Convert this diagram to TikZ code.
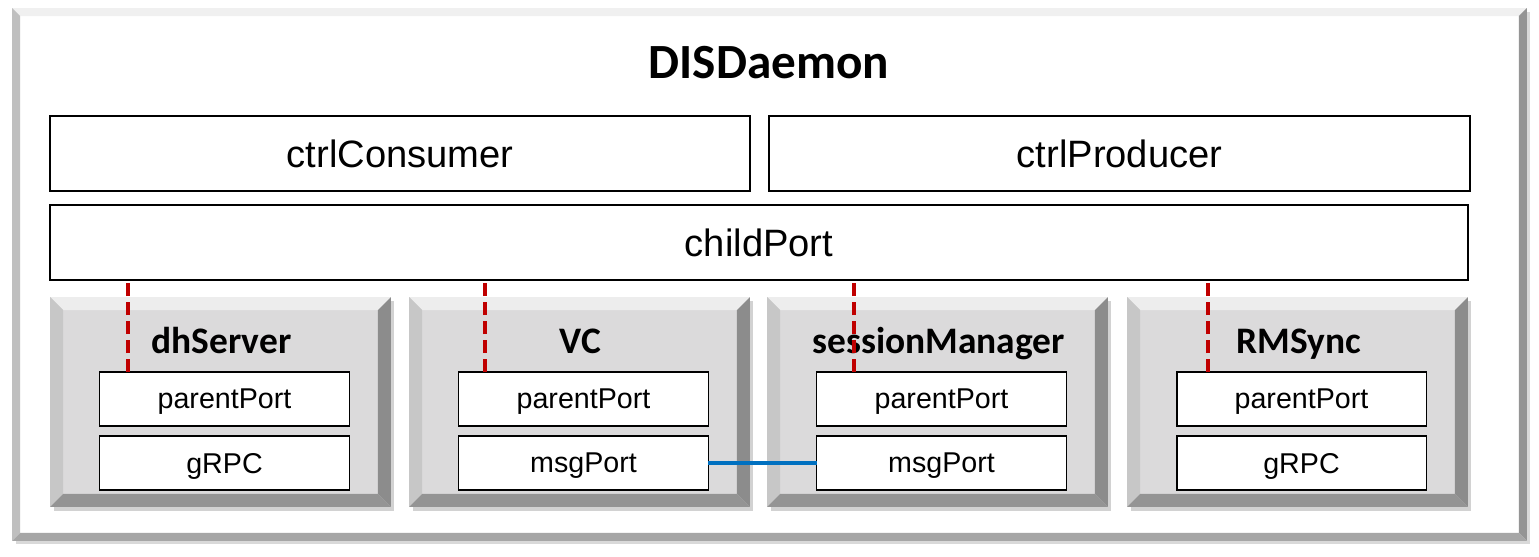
\documentclass[tikz,border=0pt]{standalone}
\usepackage{fontspec}
\setmainfont{Liberation Sans}
\newfontfamily\calibri{Carlito}
\usetikzlibrary{shadows}

\definecolor{compface}{HTML}{DBDADB}
\definecolor{tapred}{HTML}{C00000}
\definecolor{msgblue}{HTML}{0070C0}

% bevel edges round a node: node, depth, top, left, right, bottom
\newcommand{\bevel}[6]{%
  \fill[#3] (#1.north west) -- (#1.north east) -- ([xshift=-#2,yshift=-#2]#1.north east) -- ([xshift=#2,yshift=-#2]#1.north west) -- cycle;
  \fill[#4] (#1.north west) -- (#1.south west) -- ([xshift=#2,yshift=#2]#1.south west) -- ([xshift=#2,yshift=-#2]#1.north west) -- cycle;
  \fill[#5] (#1.north east) -- (#1.south east) -- ([xshift=-#2,yshift=#2]#1.south east) -- ([xshift=-#2,yshift=-#2]#1.north east) -- cycle;
  \fill[#6] (#1.south west) -- (#1.south east) -- ([xshift=-#2,yshift=#2]#1.south east) -- ([xshift=#2,yshift=#2]#1.south west) -- cycle;
}

\tikzset{
  plainbox/.style={draw=black, line width=1.1pt, fill=white, inner sep=0pt, outer sep=0pt,
    minimum height=1.5cm, text depth=0pt, font=\fontsize{21.7}{26}\selectfont},
  portbox/.style={draw=black, line width=1.1pt, fill=white, inner sep=0pt, outer sep=0pt,
    minimum width=5cm, minimum height=1.08cm, text depth=0pt, font=\fontsize{16.3}{20}\selectfont},
  compbox/.style={fill=compface, inner sep=0pt, outer sep=0pt, minimum width=6.82cm, minimum height=4.2cm,
    drop shadow={shadow xshift=2pt, shadow yshift=-2pt, opacity=0.35}},
  comptitle/.style={anchor=base, font=\calibri\bfseries\fontsize{21.3}{26}\selectfont},
  tapline/.style={tapred, line width=2.3pt, dash pattern=on 7.4pt off 3.4pt},
  msgline/.style={msgblue, line width=2.4pt}
}

\begin{document}
\begin{tikzpicture}[x=0.02cm, y=-0.02cm]
  \useasboundingbox (0,0) rectangle (1539,556);
  % outer daemon frame
  \node[fill=white, inner sep=0pt, outer sep=0pt, minimum width=30.3cm, minimum height=10.66cm,
    drop shadow={shadow xshift=2pt, shadow yshift=-2pt, opacity=0.3}] (daemon) at (769.5,274.5) {};
  \bevel{daemon}{0.16cm}{black!6}{black!25}{black!42}{black!35}
  \node[anchor=base, font=\calibri\bfseries\fontsize{28}{34}\selectfont] (title) at (769,78) {DISDaemon};

  \node[plainbox, minimum width=14cm] (cons) at (400,153.5) {ctrlConsumer};
  \node[plainbox, minimum width=14.02cm] (prod) at (1119.5,153.5) {ctrlProducer};
  \node[plainbox, minimum width=28.36cm] (child) at (759,242.5) {childPort};

  % child components
  \foreach \id/\name/\x/\tap/\port in {dh/dhServer/220.5/28/gRPC, vc/VC/579.5/26/msgPort,
      sm/sessionManager/937.5/37/msgPort, rm/RMSync/1297.5/31/gRPC} {
    \node[compbox] (\id) at (\x,402) {};
    \bevel{\id}{0.26cm}{black!7}{black!22}{black!45}{black!42}
    \node[comptitle] (t\id) at (\x+1,353) {\name};
    \node[portbox] (pp\id) at (\x+4,399) {parentPort};
    \node[portbox] (mp\id) at (\x+4,463) {\port};
    \coordinate (tap\id) at ([xshift=\tap*0.02cm]pp\id.north west);
    \draw[tapline] (tap\id) -- (tap\id |- child.south);
  }
  \draw[msgline] (mpvc.east) -- (mpsm.west);
\end{tikzpicture}
\end{document}
